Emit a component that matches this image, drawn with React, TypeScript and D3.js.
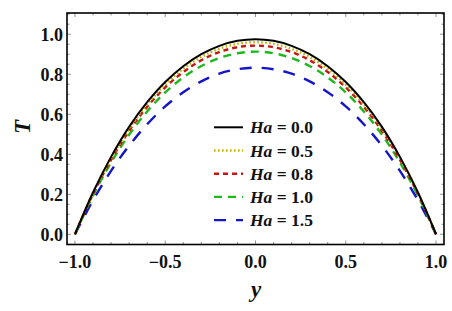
import React from "react";
import * as d3 from "d3";

const yPositions = [-1.0, -0.9, -0.8, -0.7, -0.6, -0.5, -0.4, -0.3, -0.2, -0.1, 0.0, 0.1, 0.2, 0.3, 0.4, 0.5, 0.6, 0.7, 0.8, 0.9, 1.0];
const tHa00 = [0, 0.209, 0.387, 0.537, 0.660, 0.761, 0.840, 0.900, 0.942, 0.967, 0.975, 0.967, 0.942, 0.900, 0.840, 0.761, 0.660, 0.537, 0.387, 0.209, 0];
const tHa05 = [0, 0.206, 0.380, 0.527, 0.649, 0.748, 0.827, 0.886, 0.927, 0.952, 0.960, 0.952, 0.927, 0.886, 0.827, 0.748, 0.649, 0.527, 0.380, 0.206, 0];
const tHa08 = [0, 0.201, 0.372, 0.517, 0.637, 0.734, 0.811, 0.870, 0.911, 0.935, 0.943, 0.935, 0.911, 0.870, 0.811, 0.734, 0.637, 0.517, 0.372, 0.201, 0];
const tHa10 = [0, 0.193, 0.359, 0.498, 0.614, 0.709, 0.784, 0.841, 0.881, 0.905, 0.913, 0.905, 0.881, 0.841, 0.784, 0.709, 0.614, 0.498, 0.359, 0.193, 0];
const tHa15 = [0, 0.170, 0.317, 0.443, 0.550, 0.639, 0.710, 0.764, 0.803, 0.825, 0.833, 0.825, 0.803, 0.764, 0.710, 0.639, 0.550, 0.443, 0.317, 0.170, 0];

const legendLabels = ["0.0", "0.5", "0.8", "1.0", "1.5"];
const xTicks = [-1.0, -0.5, 0.0, 0.5, 1.0];
const yTicks = [0.0, 0.2, 0.4, 0.6, 0.8, 1.0];

const seriesData = [tHa00, tHa05, tHa08, tHa10, tHa15];
const colors = ["#000000", "#c2b400", "#c81414", "#1cb81c", "#1414c8"];
const dashes = ["", "1.6,2.4", "5,4", "8,6", "12,10"];

const W = 452;
const H = 311;
const left = 67, right = 444, top = 13, bottom = 244.5;

export default function App() {
  const x = d3.scaleLinear().domain([-1.044, 1.044]).range([left, right]);
  const y = d3.scaleLinear().domain([-0.051, 1.106]).range([bottom, top]);
  const line = d3
    .line<[number, number]>()
    .x((d) => x(d[0]))
    .y((d) => y(d[1]))
    .curve(d3.curveCatmullRom.alpha(0.5));

  const font = "Liberation Serif";
  const fmt = (v: number) => (v < 0 ? "\u2212" + Math.abs(v).toFixed(1) : v.toFixed(1));

  const xMinor = d3.range(-10, 11).map((i) => i / 10);
  const yMinor = d3.range(-1, 23).map((i) => i * 0.05);

  return (
    <svg width={W} height={H} style={{ position: "absolute", left: 0, top: 0, background: "#fff" }}>
      <rect x={0} y={0} width={W} height={H} fill="#fff" />
      {xMinor.map((v, i) => {
        const major = Math.abs(v * 2 - Math.round(v * 2)) < 1e-6;
        const len = major ? 4 : 2.5;
        return (
          <g key={"xt" + i} stroke="#777" strokeWidth={0.8}>
            <line x1={x(v)} x2={x(v)} y1={bottom} y2={bottom - len} />
            <line x1={x(v)} x2={x(v)} y1={top} y2={top + len} />
          </g>
        );
      })}
      {yMinor.map((v, i) => {
        if (y(v) > bottom || y(v) < top) return null;
        const major = Math.abs(v * 5 - Math.round(v * 5)) < 1e-6;
        const len = major ? 4 : 2.5;
        return (
          <g key={"yt" + i} stroke="#777" strokeWidth={0.8}>
            <line x1={left} x2={left + len} y1={y(v)} y2={y(v)} />
            <line x1={right} x2={right - len} y1={y(v)} y2={y(v)} />
          </g>
        );
      })}
      {seriesData.map((s, i) => {
        const pts = yPositions.map((p, j) => [p, s[j]] as [number, number]);
        return (
          <path
            key={"s" + i}
            d={line(pts) || ""}
            fill="none"
            stroke={colors[i]}
            strokeWidth={i === 0 ? 2 : 2.4}
            strokeDasharray={dashes[i] || undefined}
          />
        );
      }).reverse()}
      <rect x={left} y={top} width={right - left} height={bottom - top} fill="none" stroke="#000" strokeWidth={1.6} />
      {xTicks.map((v, i) => (
        <text key={"xl" + i} x={x(v)} y={268} textAnchor="middle" fontFamily={font} fontWeight="bold" fontSize={18} fill="#111">
          {fmt(v)}
        </text>
      ))}
      {yTicks.map((v, i) => (
        <text key={"yl" + i} x={63} y={y(v)} dy="0.35em" textAnchor="end" fontFamily={font} fontWeight="bold" fontSize={18} fill="#111">
          {fmt(v)}
        </text>
      ))}
      <text x={0} y={0} transform="translate(30,127) rotate(-90)" textAnchor="middle" fontFamily={font} fontStyle="italic" fontWeight="bold" fontSize={23} fill="#111">
        T
      </text>
      <text x={256} y={297} textAnchor="middle" fontFamily={font} fontStyle="italic" fontWeight="bold" fontSize={23} fill="#111">
        y
      </text>
      {legendLabels.map((lab, i) => {
        const cy = 127.3 + i * 23.2;
        return (
          <g key={"lg" + i}>
            <line x1={214} x2={243} y1={cy} y2={cy} stroke={colors[i]} strokeWidth={i === 0 ? 2 : 2.4} strokeDasharray={dashes[i] || undefined} />
            <text x={250} y={cy} dy="0.35em" fontFamily={font} fontWeight="bold" fontSize={17.5} fill="#111">
              <tspan fontStyle="italic">Ha</tspan>
              <tspan> = {lab}</tspan>
            </text>
          </g>
        );
      })}
    </svg>
  );
}
